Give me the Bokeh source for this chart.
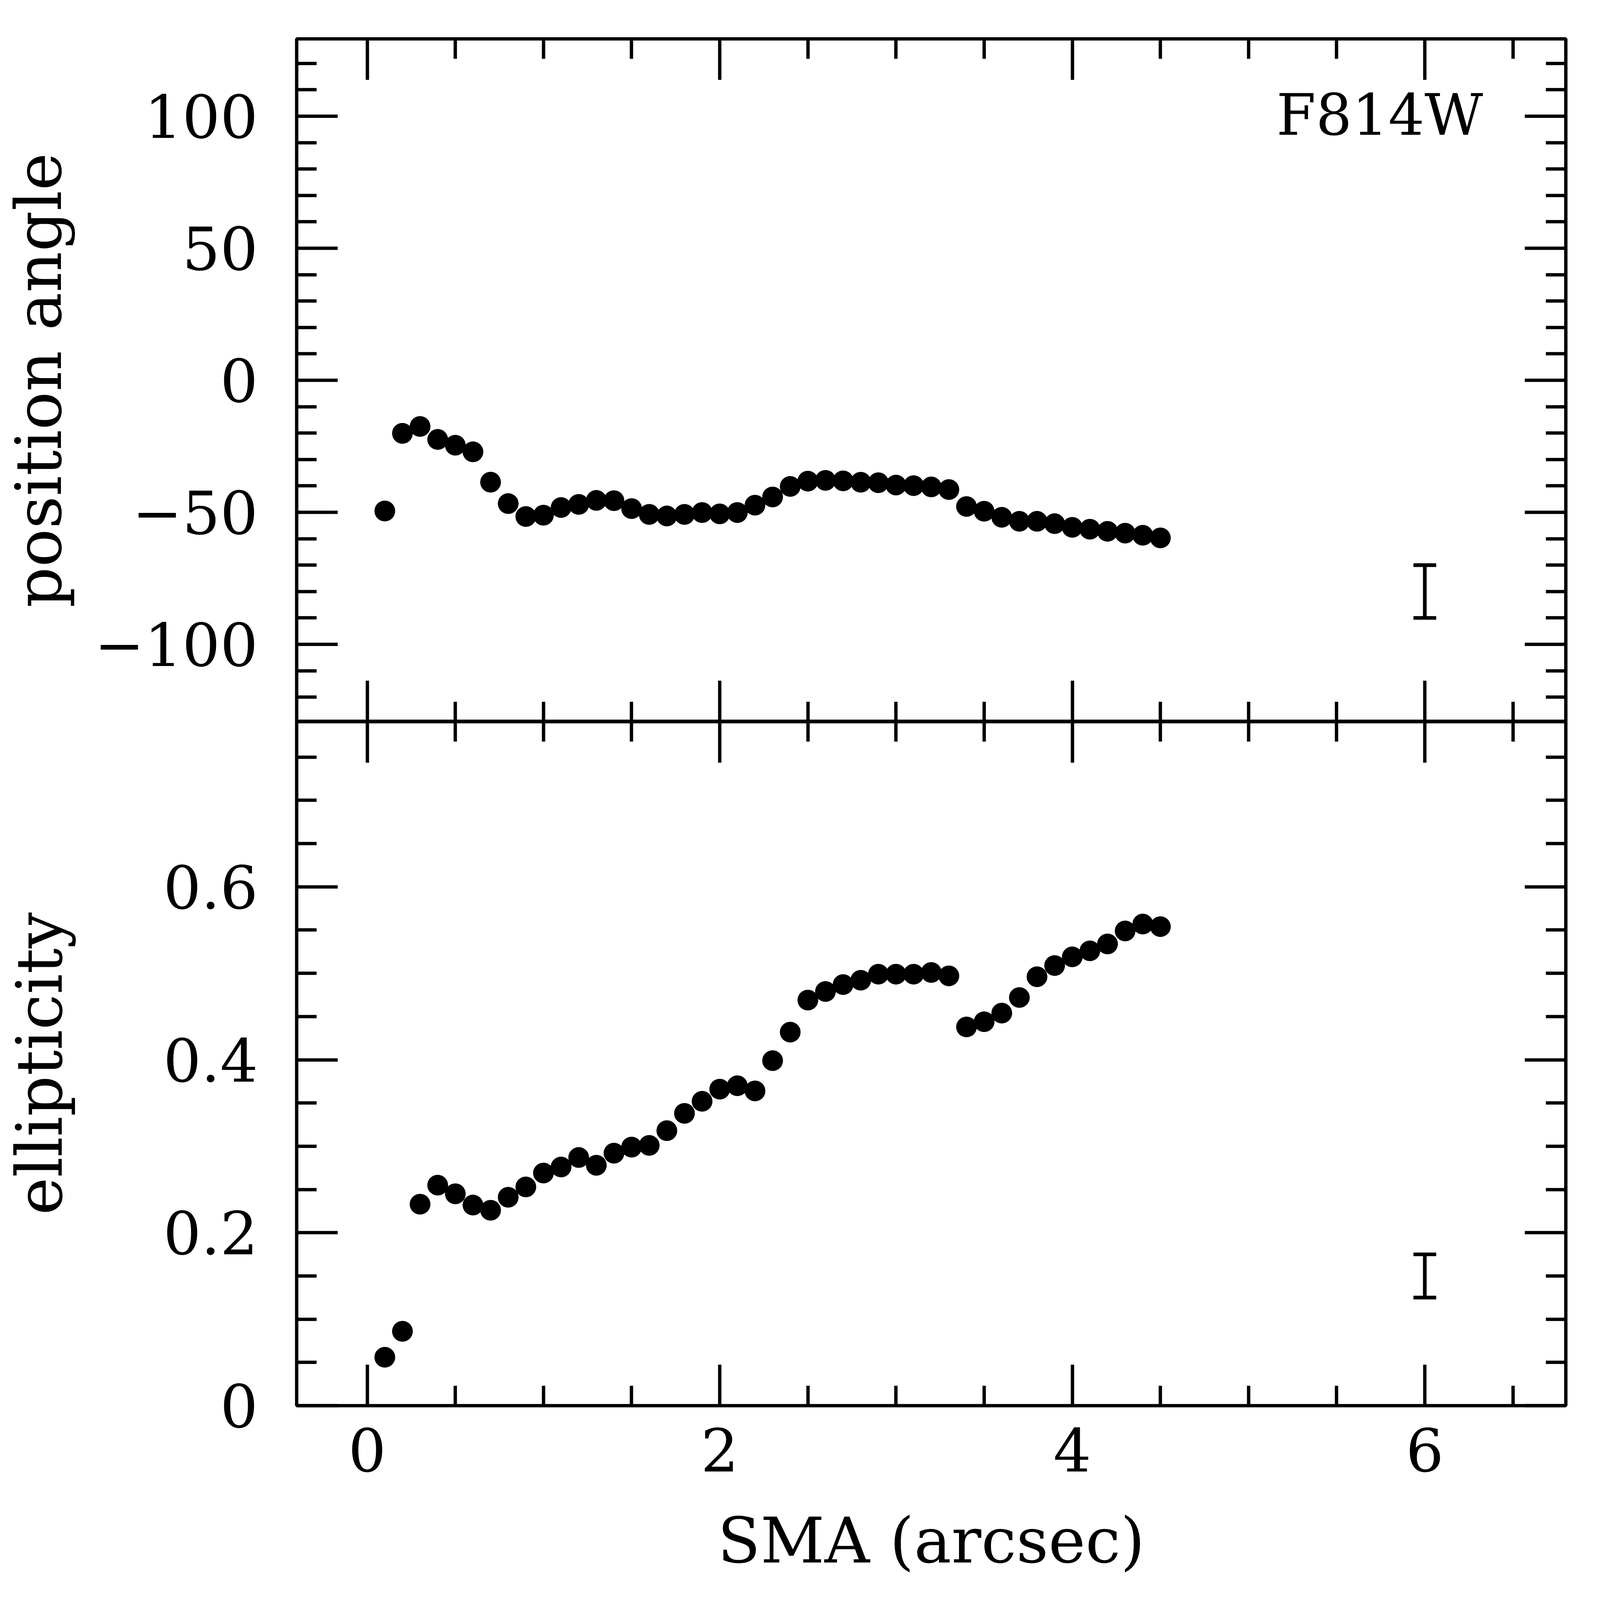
import math
from bokeh.plotting import figure
from bokeh.models import (Range1d, FixedTicker, LinearAxis, Whisker, TeeHead,
                          ColumnDataSource, Label, CustomJSTickFormatter)
from bokeh.layouts import column
from bokeh.embed import file_html
from bokeh.resources import INLINE

# ---------------- data ----------------
sma = [0.1, 0.2, 0.3, 0.4, 0.5, 0.6, 0.7, 0.8, 0.9, 1.0,
       1.1, 1.2, 1.3, 1.4, 1.5, 1.6, 1.7, 1.8, 1.9, 2.0,
       2.1, 2.2, 2.3, 2.4, 2.5, 2.6, 2.7, 2.8, 2.9, 3.0,
       3.1, 3.2, 3.3, 3.4, 3.5, 3.6, 3.7, 3.8, 3.9, 4.0,
       4.1, 4.2, 4.3, 4.4, 4.5]

position_angle = [-49.5, -20.1, -17.5, -22.4, -24.6, -27.1, -38.6, -46.7, -51.6, -51.1,
                  -48.2, -47.0, -45.5, -45.6, -48.6, -50.8, -51.4, -50.8, -50.1, -50.6,
                  -50.1, -47.3, -44.2, -40.2, -38.2, -37.9, -38.1, -38.6, -38.8, -39.7,
                  -39.9, -40.4, -41.4, -47.8, -49.6, -51.9, -53.4, -53.4, -54.3, -55.7,
                  -56.4, -57.2, -57.9, -58.7, -59.7]

ellipticity = [0.056, 0.086, 0.233, 0.255, 0.245, 0.232, 0.226, 0.241, 0.253, 0.269,
               0.276, 0.287, 0.278, 0.292, 0.299, 0.301, 0.318, 0.338, 0.352, 0.366,
               0.370, 0.364, 0.399, 0.432, 0.469, 0.479, 0.487, 0.492, 0.499, 0.499,
               0.499, 0.501, 0.497, 0.438, 0.444, 0.454, 0.472, 0.496, 0.509, 0.519,
               0.526, 0.534, 0.549, 0.557, 0.554]

# typical error bars
err_x = [6.0]
pa_err_lower = [-90.0]
pa_err_upper = [-70.0]
ell_err_lower = [0.125]
ell_err_upper = [0.175]

# ticks
x_major_ticks = [0, 2, 4, 6]
x_minor_ticks = [0.5, 1, 1.5, 2.5, 3, 3.5, 4.5, 5, 5.5, 6.5]
pa_major_ticks = [-100, -50, 0, 50, 100]
pa_minor_ticks = [-120, -110, -90, -80, -70, -60, -40, -30, -20, -10,
                  10, 20, 30, 40, 60, 70, 80, 90, 110, 120]
pa_tick_labels = {-100: "\u2212100", -50: "\u221250", 0: "0", 50: "50", 100: "100"}
ell_major_ticks = [0, 0.2, 0.4, 0.6]
ell_minor_ticks = [0.05, 0.1, 0.15, 0.25, 0.3, 0.35, 0.45, 0.5, 0.55, 0.65, 0.7, 0.75]
ell_tick_labels = {0: "0", 0.2: "0.2", 0.4: "0.4", 0.6: "0.6"}
x_tick_labels = {0: "0", 2: "2", 4: "4", 6: "6"}

x_title = "SMA (arcsec)"
pa_title = "position angle"
ell_title = "ellipticity"
band_label = "F814W"

# ---------------- styling ----------------
# the page is photographed at a larger device scale; K converts picture px to CSS px
K = 1 / 1.167


def px(v):
    return int(round(v * K))


def fs(v):
    return f"{v * K:.1f}px"


FONT = "DejaVu Serif"
TICK_FS = fs(178)
YTITLE_FS = fs(190)
XTITLE_FS = fs(187)
LW = 10 * K

FRAME_W = px(3791)
LEFT = px(886)
RIGHT = px(75)

x_range = Range1d(-0.4, 6.8)


def add_axis(p, side, major, minor, labels=None):
    ax = LinearAxis(ticker=FixedTicker(ticks=major, minor_ticks=minor))
    ax.axis_line_color = None
    ax.major_tick_in = px(122)
    ax.major_tick_out = 0
    ax.minor_tick_in = px(60)
    ax.minor_tick_out = 0
    ax.major_tick_line_width = LW
    ax.minor_tick_line_width = LW
    ax.major_tick_line_color = "black"
    ax.minor_tick_line_color = "black"
    if labels:
        ax.major_label_overrides = labels
        ax.major_label_text_font = FONT
        ax.major_label_text_font_size = TICK_FS
        ax.major_label_text_color = "black"
        ax.major_label_text_font_style = "normal"
    else:
        ax.formatter = CustomJSTickFormatter(code="return ''")
        ax.major_label_text_font_size = "0px"
        ax.major_label_standoff = 0
    p.add_layout(ax, side)
    return ax


def set_title(ax, text, size, standoff):
    ax.axis_label = text
    ax.axis_label_text_font = FONT
    ax.axis_label_text_font_size = size
    ax.axis_label_text_font_style = "normal"
    ax.axis_label_text_color = "black"
    ax.axis_label_standoff = standoff


def base_fig(y_range, frame_h, top, bottom):
    p = figure(frame_width=FRAME_W, frame_height=frame_h,
               x_range=x_range, y_range=y_range,
               output_backend="svg", toolbar_location=None,
               x_axis_location=None, y_axis_location=None,
               min_border_left=LEFT, min_border_right=RIGHT,
               min_border_top=top, min_border_bottom=bottom)
    p.grid.visible = False
    p.outline_line_color = "black"
    p.outline_line_width = LW
    p.background_fill_color = "white"
    p.border_fill_color = "white"
    return p


# ---------------- top panel: position angle ----------------
p1 = base_fig(Range1d(-129.3, 129.3), px(2040), px(115), 0)
ax = add_axis(p1, "left", pa_major_ticks, pa_minor_ticks, pa_tick_labels)
ax.major_label_standoff = px(115)
set_title(ax, pa_title, YTITLE_FS, px(53))
add_axis(p1, "right", pa_major_ticks, pa_minor_ticks)
add_axis(p1, "above", x_major_ticks, x_minor_ticks)
add_axis(p1, "below", x_major_ticks, x_minor_ticks)

src = ColumnDataSource(dict(sma=sma, pa=position_angle, ell=ellipticity))
p1.scatter(x="sma", y="pa", source=src, size=62 * K, marker="circle",
           fill_color="black", line_color=None)

err1 = ColumnDataSource(dict(x=err_x, lo=pa_err_lower, hi=pa_err_upper))
p1.add_layout(Whisker(source=err1, base="x", lower="lo", upper="hi", dimension="height",
                      line_width=11 * K, line_color="black",
                      lower_head=TeeHead(size=68 * K, line_width=11 * K, line_color="black"),
                      upper_head=TeeHead(size=68 * K, line_width=11 * K, line_color="black")))

p1.add_layout(Label(x=6.33, y=100.4, text=band_label, text_align="right",
                    text_baseline="middle", text_font=FONT, text_font_size=fs(170),
                    text_color="black"))

# ---------------- bottom panel: ellipticity ----------------
p2 = base_fig(Range1d(0, 0.791), px(2043), 0, px(540))
ax = add_axis(p2, "left", ell_major_ticks, ell_minor_ticks, ell_tick_labels)
ax.major_label_standoff = px(115)
set_title(ax, ell_title, YTITLE_FS, px(255))
add_axis(p2, "right", ell_major_ticks, ell_minor_ticks)
add_axis(p2, "above", x_major_ticks, x_minor_ticks)
bx = add_axis(p2, "below", x_major_ticks, x_minor_ticks, x_tick_labels)
bx.major_label_standoff = px(67)
set_title(bx, x_title, XTITLE_FS, px(94))

p2.scatter(x="sma", y="ell", source=src, size=62 * K, marker="circle",
           fill_color="black", line_color=None)

err2 = ColumnDataSource(dict(x=err_x, lo=ell_err_lower, hi=ell_err_upper))
p2.add_layout(Whisker(source=err2, base="x", lower="lo", upper="hi", dimension="height",
                      line_width=11 * K, line_color="black",
                      lower_head=TeeHead(size=68 * K, line_width=11 * K, line_color="black"),
                      upper_head=TeeHead(size=68 * K, line_width=11 * K, line_color="black")))

layout = column(p1, p2)
open("out.html", "w").write(file_html(layout, INLINE))
